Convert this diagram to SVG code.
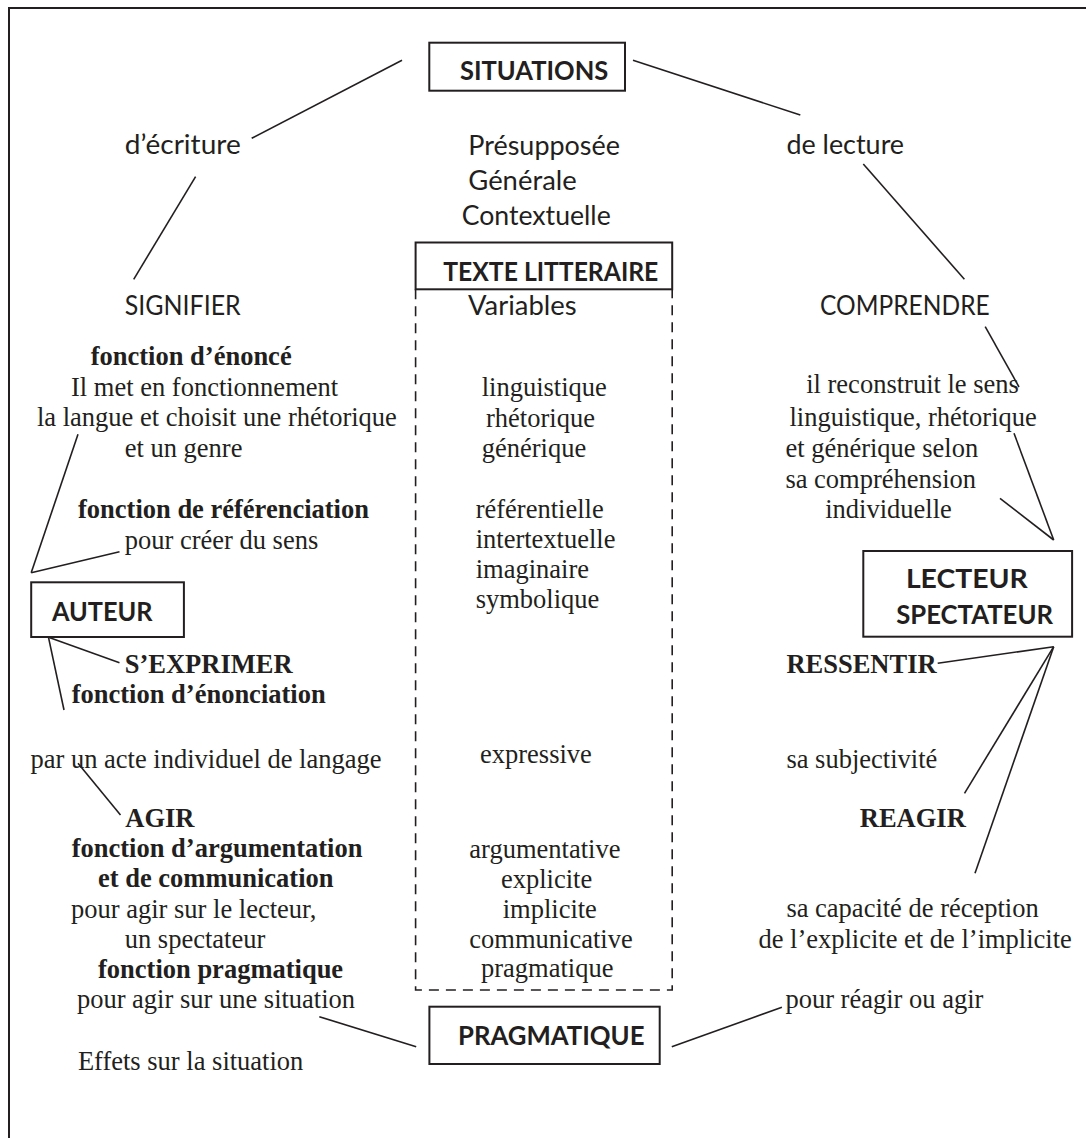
<svg xmlns="http://www.w3.org/2000/svg" width="1086" height="1138" viewBox="0 0 1086 1138">
<style>
.bg{fill:#fff}
.frame{fill:none;stroke:#231f20;stroke-width:2}
.box{fill:#fff;stroke:#231f20;stroke-width:2}
.dash{fill:none;stroke:#231f20;stroke-width:1.6;stroke-dasharray:10 7}
.c line{stroke:#231f20;stroke-width:1.6}
.s{font-family:Lato,"Liberation Sans",sans-serif;font-size:26px;fill:#231f20}
.sb{font-family:Lato,"Liberation Sans",sans-serif;font-size:26px;font-weight:bold;fill:#231f20}
.t{font-family:"Liberation Serif","Times New Roman",serif;font-size:26.5px;fill:#231f20}
.tb{font-family:"Liberation Serif","Times New Roman",serif;font-size:26.5px;font-weight:bold;fill:#231f20}
</style>
<rect class="bg" x="0" y="0" width="1086" height="1138"/>
<path class="frame" d="M9,1138 V8 H1086"/>

<g id="connectors" class="c">
<line x1="402" y1="60.3" x2="251.7" y2="138.3"/>
<line x1="195.6" y1="176.7" x2="133.7" y2="279.3"/>
<line x1="633" y1="60.3" x2="800.3" y2="115"/>
<line x1="863.3" y1="164" x2="964.4" y2="279.3"/>
<line x1="985.2" y1="326.7" x2="1019" y2="387"/>
<line x1="1014" y1="433.3" x2="1053.7" y2="540"/>
<line x1="1000" y1="498.3" x2="1053.7" y2="540"/>
<line x1="78" y1="434.3" x2="31.2" y2="572.7"/>
<line x1="31.2" y1="572.7" x2="119.5" y2="551.7"/>
<line x1="48.5" y1="637.3" x2="119.5" y2="662.7"/>
<line x1="48.5" y1="637.3" x2="64" y2="710"/>
<line x1="78" y1="763.3" x2="120.5" y2="815"/>
<line x1="319.3" y1="1016.7" x2="416.2" y2="1046.7"/>
<line x1="671.8" y1="1046.7" x2="781.9" y2="1007.3"/>
<line x1="1053.7" y1="646.7" x2="937.7" y2="663.3"/>
<line x1="1053.7" y1="646.7" x2="964.5" y2="793.3"/>
<line x1="1053.7" y1="646.7" x2="975" y2="873.3"/>
</g>

<g id="situations">
<rect class="box" x="429.3" y="42.7" width="195.7" height="48"/>
<text class="sb" x="460" y="80" textLength="148.3" lengthAdjust="spacingAndGlyphs">SITUATIONS</text>
</g>

<g id="ecriture">
<text class="s" x="124.7" y="154" textLength="116" lengthAdjust="spacingAndGlyphs">d’écriture</text>
</g>

<g id="situation-types">
<text class="s" x="468.3" y="155" textLength="151.7" lengthAdjust="spacingAndGlyphs">Présupposée</text>
<text class="s" x="468.3" y="190" textLength="108.4" lengthAdjust="spacingAndGlyphs">Générale</text>
<text class="s" x="461.7" y="225" textLength="149" lengthAdjust="spacingAndGlyphs">Contextuelle</text>
</g>

<g id="lecture">
<text class="s" x="786.4" y="154" textLength="117.7" lengthAdjust="spacingAndGlyphs">de lecture</text>
</g>

<g id="texte-litteraire">
<path class="dash" d="M415.6,289.3 V990 H672.2 V289.3"/>
<rect class="box" x="415.6" y="242.5" width="256.6" height="46.8"/>
<text class="sb" x="443.3" y="280.5" textLength="215" lengthAdjust="spacingAndGlyphs">TEXTE LITTERAIRE</text>
<text class="s" x="468" y="315" textLength="108.6" lengthAdjust="spacingAndGlyphs">Variables</text>
<text class="t" x="481.7" y="396">linguistique</text>
<text class="t" x="486" y="426.7">rhétorique</text>
<text class="t" x="481.7" y="456.7">générique</text>
<text class="t" x="475.7" y="518.3">référentielle</text>
<text class="t" x="475.7" y="548.3">intertextuelle</text>
<text class="t" x="475.7" y="578.3">imaginaire</text>
<text class="t" x="475.7" y="608.3">symbolique</text>
<text class="t" x="480" y="763.3">expressive</text>
<text class="t" x="469.3" y="858.3">argumentative</text>
<text class="t" x="501" y="888.3">explicite</text>
<text class="t" x="502.7" y="918.3">implicite</text>
<text class="t" x="469.3" y="948.3">communicative</text>
<text class="t" x="481" y="976.7">pragmatique</text>
</g>

<g id="signifier">
<text class="s" x="124.7" y="315" textLength="116" lengthAdjust="spacingAndGlyphs">SIGNIFIER</text>
<text class="tb" x="90.7" y="365">fonction d’énoncé</text>
<text class="t" x="71" y="396">Il met en fonctionnement</text>
<text class="t" x="37" y="425.7">la langue et choisit une rhétorique</text>
<text class="t" x="124.7" y="457.3">et un genre</text>
<text class="tb" x="78" y="518.3">fonction de référenciation</text>
<text class="t" x="124.7" y="549.3">pour créer du sens</text>
</g>

<g id="comprendre">
<text class="s" x="820" y="315" textLength="169.7" lengthAdjust="spacingAndGlyphs">COMPRENDRE</text>
<text class="t" x="806.2" y="393">il reconstruit le sens</text>
<text class="t" x="789.5" y="425.7">linguistique, rhétorique</text>
<text class="t" x="785.4" y="457.3">et générique selon</text>
<text class="t" x="785.4" y="488.3">sa compréhension</text>
<text class="t" x="825.2" y="518.3">individuelle</text>
</g>

<g id="auteur">
<rect class="box" x="31.2" y="582.3" width="152.7" height="54.7"/>
<text class="sb" x="51.9" y="620.7" textLength="100.5" lengthAdjust="spacingAndGlyphs">AUTEUR</text>
</g>

<g id="lecteur-spectateur">
<rect class="box" x="863.3" y="551" width="208.8" height="85.7"/>
<text class="sb" x="905.9" y="588.3" textLength="121.9" lengthAdjust="spacingAndGlyphs">LECTEUR</text>
<text class="sb" x="896.2" y="624.3" textLength="156.8" lengthAdjust="spacingAndGlyphs">SPECTATEUR</text>
</g>

<g id="s-exprimer">
<text class="tb" x="124.7" y="673.3">S’EXPRIMER</text>
<text class="tb" x="71.7" y="703.3">fonction d’énonciation</text>
<text class="t" x="30.5" y="767.5">par un acte individuel de langage</text>
</g>

<g id="ressentir">
<text class="tb" x="786.4" y="673.3">RESSENTIR</text>
<text class="t" x="786.4" y="767.5">sa subjectivité</text>
</g>

<g id="agir">
<text class="tb" x="125.3" y="826.7">AGIR</text>
<text class="tb" x="71.7" y="856.7">fonction d’argumentation</text>
<text class="tb" x="98" y="886.7">et de communication</text>
<text class="t" x="71" y="917.7">pour agir sur le lecteur,</text>
<text class="t" x="124.7" y="948.3">un spectateur</text>
<text class="tb" x="98" y="978.3">fonction pragmatique</text>
<text class="t" x="76.9" y="1008.3">pour agir sur une situation</text>
<text class="t" x="77.9" y="1070">Effets sur la situation</text>
</g>

<g id="reagir">
<text class="tb" x="859.8" y="826.7">REAGIR</text>
<text class="t" x="786.4" y="916.7">sa capacité de réception</text>
<text class="t" x="758.4" y="948.3">de l’explicite et de l’implicite</text>
<text class="t" x="785.4" y="1008.3">pour réagir ou agir</text>
</g>

<g id="pragmatique">
<rect class="box" x="429.4" y="1006.7" width="230.3" height="57.3"/>
<text class="sb" x="458" y="1045" textLength="186.5" lengthAdjust="spacingAndGlyphs">PRAGMATIQUE</text>
</g>
</svg>
